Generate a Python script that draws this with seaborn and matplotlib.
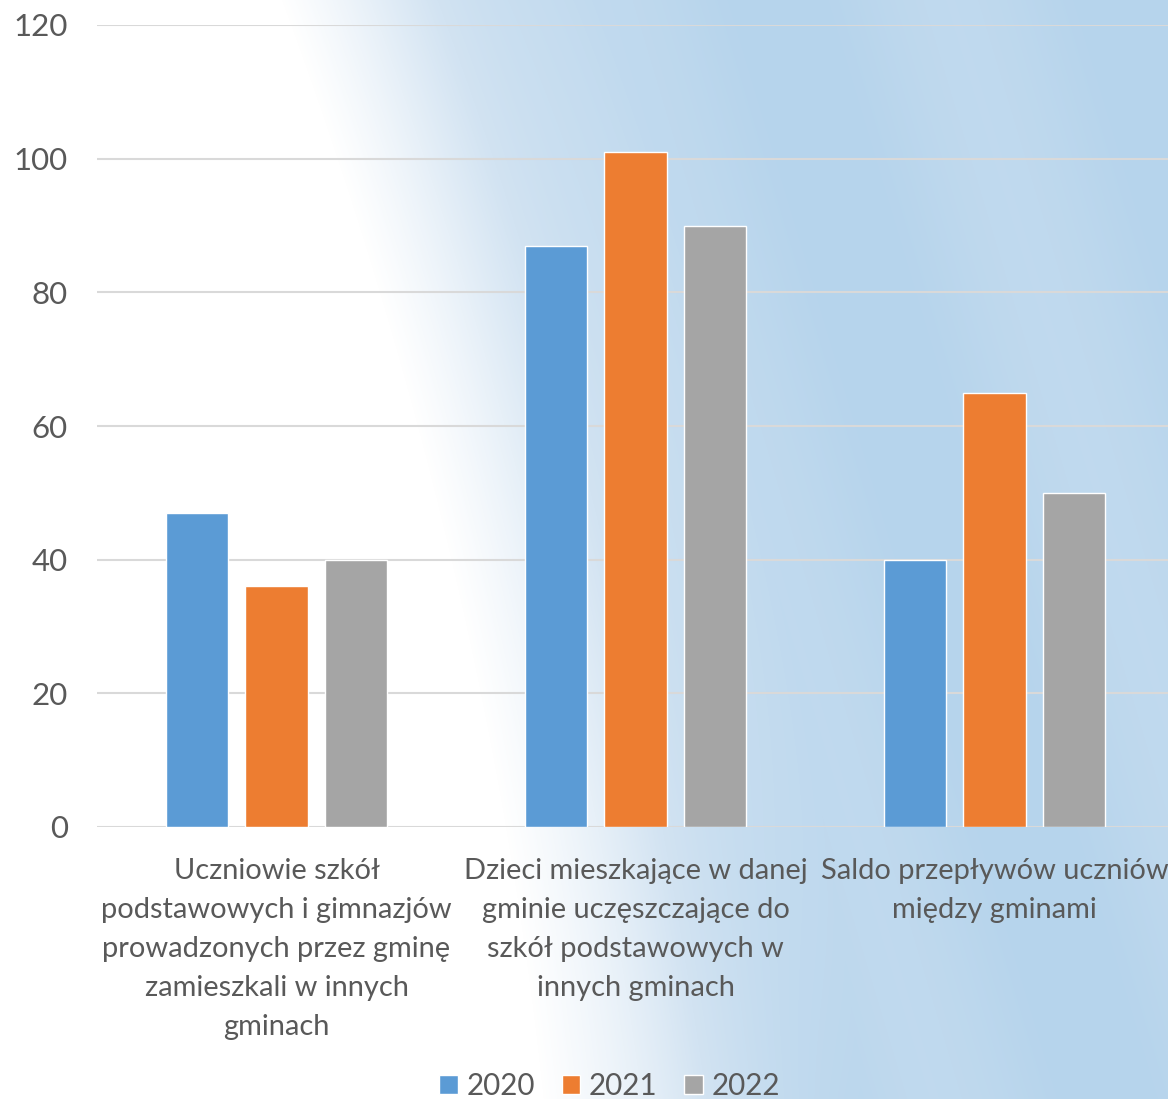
import numpy as np
import pandas as pd
import matplotlib
matplotlib.use("Agg")
import matplotlib.pyplot as plt
import seaborn as sns
from matplotlib.colors import LinearSegmentedColormap

# data
categories = [
    "Uczniowie szkół\npodstawowych i gimnazjów\nprowadzonych przez gminę\nzamieszkali w innych\ngminach",
    "Dzieci mieszkające w danej\ngminie uczęszczające do\nszkół podstawowych w\ninnych gminach",
    "Saldo przepływów uczniów\nmiędzy gminami",
]
years = ["2020", "2021", "2022"]
values_2020 = [47, 87, 40]
values_2021 = [36, 101, 65]
values_2022 = [40, 90, 50]
colors = ["#5B9BD5", "#ED7D31", "#A5A5A5"]
y_ticks = [0, 20, 40, 60, 80, 100, 120]

df = pd.DataFrame({
    "category": categories * 3,
    "year": [y for y in years for _ in categories],
    "value": values_2020 + values_2021 + values_2022,
})

sns.set_theme(style="white")
plt.rcParams["font.family"] = ["Lato", "DejaVu Sans"]
text_col = "#595959"
fs = 20.9

fig = plt.figure(figsize=(11.68, 10.99), dpi=100)

# soft blue backdrop like the office theme
bg = fig.add_axes([0, 0, 1, 1], zorder=-10)
h, w = 1099, 1168
yy, xx = np.mgrid[0:h, 0:w]
edge = 310 + 0.25 * yy - 0.00012 * (yy - 500) ** 2
t = np.clip((xx - edge) / 320, 0, 1)
streak = 0.10 * np.sin((xx - 0.3 * yy) / 55.0)
t = np.clip(t * (0.92 + streak), 0, 1)
cmap = LinearSegmentedColormap.from_list("bg", ["#ffffff", "#d2e3f2", "#b6d4ec"])
bg.imshow(t, cmap=cmap, aspect="auto", extent=(0, 1, 0, 1), vmin=0, vmax=1)
bg.axis("off")

ax = fig.add_axes([97 / 1168, 272 / 1099, 1077 / 1168, 802 / 1099])
ax.patch.set_alpha(0)
sns.barplot(data=df, x="category", y="value", hue="year", palette=colors,
            width=0.664, gap=0.21, saturation=1, ax=ax, legend=True)

ax.set_ylim(0, 120)
ax.set_xlim(-0.5, 2.5)
ax.set_yticks(y_ticks)
ax.yaxis.grid(True, color="#D9D9D9", linewidth=1.5)
ax.set_axisbelow(True)
for s in ax.spines.values():
    s.set_visible(False)
ax.set_xlabel("")
ax.set_ylabel("")
ax.tick_params(axis="y", length=0, pad=21, labelsize=22.5, labelcolor=text_col)
ax.tick_params(axis="x", length=0, pad=22, labelsize=fs, labelcolor=text_col)
for lbl in ax.get_xticklabels():
    lbl.set_linespacing(1.62)

handles, labels = ax.get_legend_handles_labels()
ax.get_legend().remove()
fig.legend(handles, labels, loc="lower center", bbox_to_anchor=(0.522, -0.025),
           ncol=3, frameon=False, fontsize=fs + 0.4, labelcolor=text_col,
           handlelength=0.62, handleheight=0.62, handletextpad=0.3, columnspacing=0.9)

fig.savefig("out.png", dpi=100)
